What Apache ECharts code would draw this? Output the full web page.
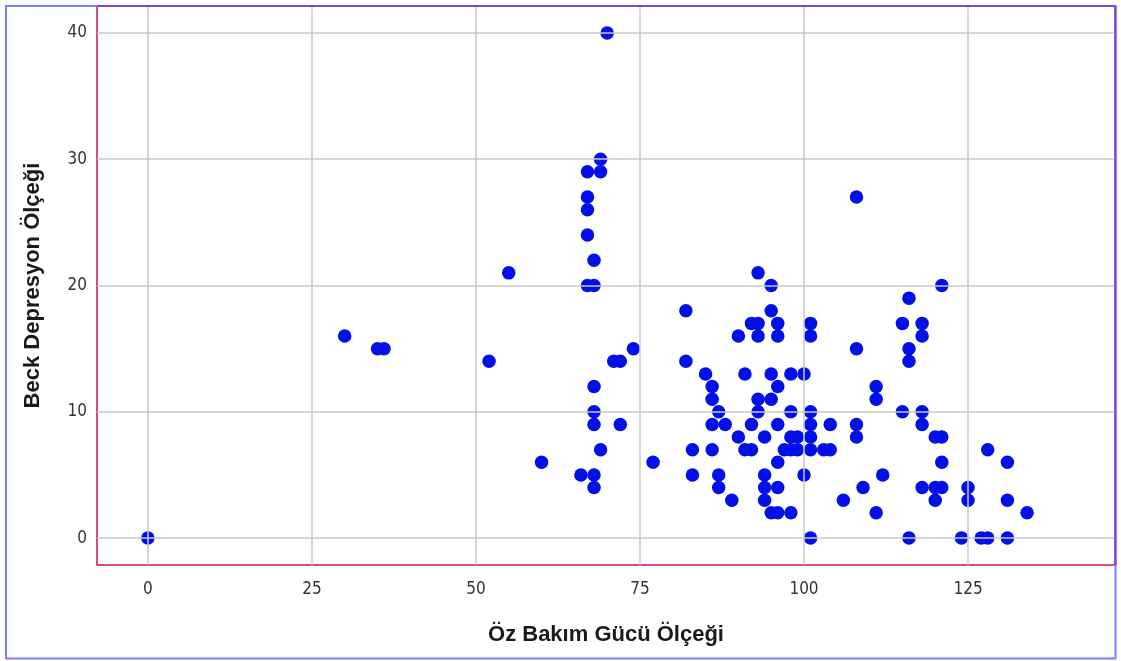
<!DOCTYPE html>
<html>
<head>
<meta charset="utf-8">
<script src="https://cdn.jsdelivr.net/npm/echarts@6/dist/echarts.min.js"></script>
<style>
html,body{margin:0;padding:0;background:#fff;}
#chart{width:1121px;height:661px;}
</style>
</head>
<body>
<div id="chart"></div>
<script>
// Öz Bakım Gücü Ölçeği (x) values
const xValues = [
  0, 30, 35, 36, 52, 55, 60,
  66, 67, 69, 69, 67, 67, 67, 68, 67, 68, 70, 68, 68, 68, 69, 68, 68, 71, 72, 72, 74, 77,
  82, 82, 83, 83, 85, 86, 86, 86, 86, 87, 87, 87, 88, 89, 90, 90,
  91, 91, 92, 92, 92, 93, 93, 93, 93, 93, 94, 94, 94, 94, 95, 95, 95, 95, 95, 96, 96, 96, 96, 96, 96, 96,
  97, 98, 98, 98, 98, 98, 99, 99, 100, 100, 101, 101, 101, 101, 101, 101, 101, 103, 104, 104,
  106, 108, 108, 108, 108, 109, 111, 111, 111, 112,
  115, 115, 116, 116, 116, 116, 118, 118, 118, 118, 118, 120, 120, 120, 121, 121, 121, 121,
  124, 125, 125, 127, 128, 128, 131, 131, 131, 134
];
// Beck Depresyon Ölçeği (y) values
const yValues = [
  0, 16, 15, 15, 14, 21, 6,
  5, 29, 29, 30, 27, 26, 24, 22, 20, 20, 40, 12, 10, 9, 7, 5, 4, 14, 14, 9, 15, 6,
  18, 14, 7, 5, 13, 12, 11, 9, 7, 10, 5, 4, 9, 3, 16, 8,
  13, 7, 17, 9, 7, 21, 17, 16, 11, 10, 8, 5, 4, 3, 20, 18, 13, 11, 2, 17, 16, 12, 9, 6, 4, 2,
  7, 13, 10, 8, 7, 2, 8, 7, 13, 5, 17, 16, 10, 9, 8, 7, 0, 7, 9, 7,
  3, 27, 15, 9, 8, 4, 12, 11, 2, 5,
  17, 10, 19, 15, 14, 0, 17, 16, 10, 9, 4, 8, 4, 3, 20, 8, 6, 4,
  0, 4, 3, 0, 7, 0, 6, 3, 0, 2
];
const xTicks = [0, 25, 50, 75, 100, 125];
const yTicks = [0, 10, 20, 30, 40];

const points = xValues.map((x, i) => [x, yValues[i]]);
const tickFont = "'Liberation Sans Narrow', 'DejaVu Sans Condensed', 'Arial Narrow', sans-serif";
const titleFont = "'Liberation Sans', Arial, sans-serif";

const chart = echarts.init(document.getElementById('chart'), null, {renderer: 'canvas'});
chart.setOption({
  animation: false,
  backgroundColor: '#ffffff',
  grid: {
    left: 97, top: 6, right: 6, bottom: 96,
    show: true, borderColor: '#d2143c', borderWidth: 1.5, backgroundColor: 'transparent'
  },
  xAxis: {
    type: 'value', min: -7.75, max: 147.4,
    name: 'Öz Bakım Gücü Ölçeği', nameLocation: 'middle', nameGap: 59,
    nameTextStyle: {fontFamily: titleFont, fontWeight: 'bold', fontSize: 22, color: '#1a1a1a'},
    axisLine: {show: false}, axisTick: {show: false}, splitLine: {show: false},
    axisLabel: {customValues: xTicks, margin: 16, fontFamily: tickFont, fontSize: 17, color: '#333'}
  },
  yAxis: {
    type: 'value', min: -2.13, max: 42.13,
    name: 'Beck Depresyon Ölçeği', nameLocation: 'middle', nameGap: 53,
    nameTextStyle: {fontFamily: titleFont, fontWeight: 'bold', fontSize: 22, color: '#1a1a1a'},
    axisLine: {show: false}, axisTick: {show: false}, splitLine: {show: false},
    axisLabel: {customValues: yTicks, margin: 10, fontFamily: tickFont, fontSize: 17, color: '#333'}
  },
  series: [
    {
      type: 'scatter', data: [], silent: true, z: 1,
      markLine: {
        silent: true, symbol: ['none', 'none'], label: {show: false},
        lineStyle: {color: '#c9c9c9', width: 1.5, type: 'solid'},
        data: xTicks.map(v => ({xAxis: v})).concat(yTicks.map(v => ({yAxis: v})))
      }
    },
    {
      type: 'scatter', data: points, z: 3,
      symbol: 'circle', symbolSize: 13.5,
      itemStyle: {color: '#0010e6', opacity: 1}
    }
  ],
  graphic: [
    {type: 'rect', z: 100, shape: {x: 6, y: 6, width: 1109.5, height: 652.5},
     style: {fill: 'none', stroke: '#7d7dff', lineWidth: 2}},
    {type: 'line', z: 101, shape: {x1: 97, y1: 6, x2: 1115.5, y2: 6},
     style: {stroke: '#7a46d6', lineWidth: 2}},
    {type: 'line', z: 101, shape: {x1: 1115.5, y1: 6, x2: 1115.5, y2: 565},
     style: {stroke: '#7a46d6', lineWidth: 2}}
  ]
});
</script>
</body>
</html>
